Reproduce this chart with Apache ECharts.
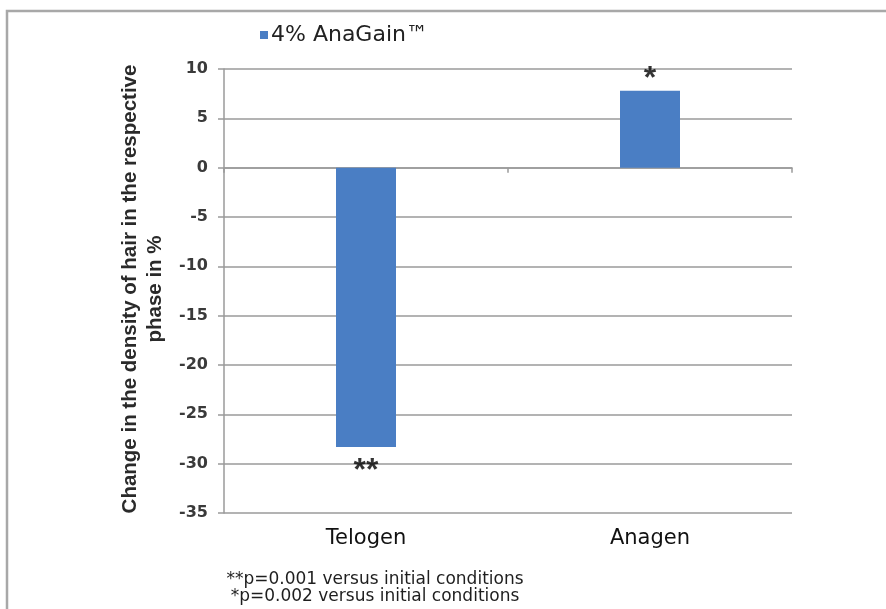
<!DOCTYPE html>
<html>
<head>
<meta charset="utf-8">
<script src="https://cdn.jsdelivr.net/npm/echarts@6/dist/echarts.min.js"></script>
<style>
html,body{margin:0;padding:0;background:#fff;}
#chart{width:886px;height:609px;}
</style>
</head>
<body>
<div id="chart"></div>
<script>
const seriesName = '4% AnaGain\u2122';
const categories = ['Telogen', 'Anagen'];
const values = [-28.3, 7.8];
const significance = ['**', '*'];
const yMin = -35, yMax = 10, yStep = 5;
const yTitle = 'Change in the density of hair in the respective\nphase in %';
const footnotes = ['**p=0.001 versus initial conditions', '*p=0.002 versus initial conditions'];

const gridColor = '#9a9a9a';
const chart = echarts.init(document.getElementById('chart'));
chart.setOption({
  animation: false,
  backgroundColor: '#fff',
  legend: {
    data: [seriesName],
    left: 255, top: 19,
    icon: 'rect', itemWidth: 8, itemHeight: 8, itemGap: 4,
    textStyle: {fontFamily: 'DejaVu Sans', fontSize: 22, color: '#222', padding: [0,0,0,-2]}
  },
  grid: {left: 224, right: 94, top: 69, bottom: 96},
  xAxis: [{
    type: 'category', data: categories,
    axisLine: {onZero: true, lineStyle: {color: gridColor, width: 1.5}},
    axisTick: {show: true, length: 5, lineStyle: {color: gridColor, width: 1.5}},
    axisLabel: {show: false}
  }, {
    type: 'category', data: categories, position: 'bottom',
    axisLine: {show: false, onZero: false},
    axisTick: {show: false},
    axisLabel: {margin: 15, fontFamily: 'DejaVu Sans', fontSize: 21, color: '#111'}
  }],
  yAxis: {
    type: 'value', min: yMin, max: yMax, interval: yStep,
    axisLine: {show: true, lineStyle: {color: gridColor, width: 1.5}},
    axisTick: {show: true, length: 6, lineStyle: {color: gridColor, width: 1.5}},
    splitLine: {lineStyle: {color: gridColor, width: 1.5}},
    axisLabel: {margin: 16, fontFamily: 'DejaVu Sans', fontWeight: 'bold', fontSize: 16, color: '#3a3a3a'}
  },
  series: [{
    name: seriesName, type: 'bar', data: values, barWidth: 60,
    itemStyle: {color: '#4a7ec4'}
  }, {
    type: 'scatter', data: values.map((v, i) => ({
      value: v,
      label: {
        show: true, formatter: significance[i],
        position: v < 0 ? 'bottom' : 'top',
        distance: v < 0 ? 8 : -4,
        color: '#000', fontFamily: 'Liberation Sans', fontWeight: 'bold', fontSize: 32
      }
    })),
    symbolSize: 0, silent: true,
    itemStyle: {color: '#000'},
    label: {fontFamily: 'Liberation Sans', fontWeight: 'bold', fontSize: 32, color: '#000'},
    tooltip: {show: false}
  }],
  graphic: [{
    type: 'rect', shape: {x: 7, y: 11, width: 920, height: 640},
    style: {fill: 'none', stroke: '#a8a8a8', lineWidth: 2.5}, silent: true
  }, {
    type: 'text', x: 143, y: 289, rotation: Math.PI / 2,
    style: {text: yTitle, fontFamily: 'Liberation Sans', fontWeight: 'bold', fontSize: 20.5, lineHeight: 25,
      fill: '#2a2a2a', align: 'center', verticalAlign: 'middle'}
  }, {
    type: 'text', x: 375, y: 588,
    style: {text: footnotes.join('\n'), fontFamily: 'DejaVu Sans', fontSize: 17, lineHeight: 17,
      fill: '#1e1e1e', align: 'center', verticalAlign: 'middle'}
  }]
});
</script>
</body>
</html>
